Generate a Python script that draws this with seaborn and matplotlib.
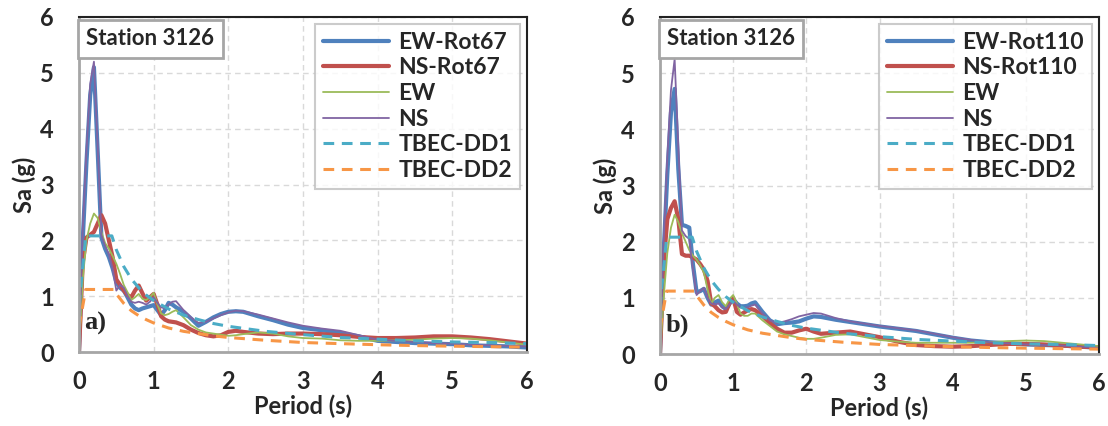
import matplotlib
matplotlib.use("Agg")
import matplotlib.pyplot as plt
import seaborn as sns

# ---------------- data ----------------
period = [0, 0.05, 0.1, 0.15, 0.2, 0.25, 0.3, 0.35, 0.4, 0.45, 0.5, 0.55, 0.6, 0.65,
          0.7, 0.75, 0.8, 0.85, 0.9, 0.95, 1.0, 1.05, 1.1, 1.15, 1.2, 1.25, 1.3, 1.4,
          1.5, 1.6, 1.7, 1.8, 1.9, 2.0, 2.1, 2.2, 2.4, 2.6, 2.8, 3.0, 3.25, 3.5, 3.75,
          4.0, 4.25, 4.5, 4.75, 5.0, 5.25, 5.5, 5.75, 6.0]

# panel a) rotation 67
ew_rot67 = [0, 2.0, 3.4, 4.6, 5.1, 3.6, 2.05, 1.85, 1.7, 1.5, 1.25, 1.15, 1.1, 0.98,
            0.85, 0.78, 0.75, 0.78, 0.8, 0.82, 0.84, 0.75, 0.66, 0.75, 0.88, 0.85, 0.8, 0.72,
            0.6, 0.47, 0.54, 0.62, 0.68, 0.72, 0.73, 0.72, 0.64, 0.57, 0.49, 0.43, 0.39, 0.34, 0.28,
            0.2, 0.18, 0.16, 0.15, 0.14, 0.12, 0.11, 0.1, 0.08]
ns_rot67 = [0, 1.6, 2.05, 2.1, 2.15, 2.3, 2.45, 2.3, 2.0, 1.7, 1.3, 1.2, 1.1, 1.02,
            0.98, 1.1, 1.19, 1.05, 0.92, 0.98, 1.04, 0.85, 0.64, 0.58, 0.55, 0.54, 0.53, 0.48,
            0.4, 0.34, 0.3, 0.28, 0.3, 0.36, 0.38, 0.36, 0.33, 0.32, 0.33, 0.33, 0.32, 0.3, 0.27,
            0.25, 0.25, 0.26, 0.28, 0.28, 0.26, 0.23, 0.19, 0.15]
ew_a = [0, 1.3, 2.0, 2.3, 2.48, 2.4, 2.15, 1.95, 1.85, 1.72, 1.58, 1.4, 1.2, 1.07,
        0.93, 0.98, 1.04, 0.95, 0.93, 0.98, 1.06, 0.85, 0.69, 0.66, 0.68, 0.72, 0.75, 0.62,
        0.48, 0.4, 0.35, 0.33, 0.31, 0.29, 0.3, 0.32, 0.35, 0.33, 0.28, 0.25, 0.24, 0.21, 0.2,
        0.2, 0.21, 0.22, 0.24, 0.25, 0.24, 0.21, 0.17, 0.13]
ns_a = [0, 2.2, 3.6, 4.8, 5.2, 3.7, 2.1, 1.9, 1.75, 1.5, 1.1, 1.2, 1.15, 1.0,
        0.9, 0.88, 0.9, 0.88, 0.85, 0.9, 0.98, 0.88, 0.8, 0.78, 0.85, 0.9, 0.91, 0.75,
        0.62, 0.52, 0.54, 0.6, 0.66, 0.71, 0.74, 0.73, 0.67, 0.6, 0.53, 0.47, 0.42, 0.38, 0.3,
        0.22, 0.2, 0.18, 0.16, 0.15, 0.13, 0.12, 0.11, 0.1]

# panel b) rotation 110
ew_rot110 = [0, 1.8, 3.2, 4.3, 4.72, 3.3, 2.3, 2.28, 2.25, 1.6, 1.1, 1.12, 1.16, 1.0,
             0.88, 0.92, 0.95, 0.85, 0.8, 0.9, 0.98, 0.9, 0.85, 0.85, 0.86, 0.9, 0.92, 0.75,
             0.6, 0.53, 0.55, 0.56, 0.58, 0.63, 0.67, 0.66, 0.61, 0.57, 0.53, 0.49, 0.45, 0.41, 0.35,
             0.29, 0.24, 0.21, 0.19, 0.17, 0.16, 0.15, 0.13, 0.11]
ns_rot110 = [0, 1.6, 2.4, 2.6, 2.72, 2.4, 1.78, 1.75, 1.75, 1.72, 1.68, 1.6, 1.5, 1.3,
             0.9, 0.85, 0.78, 0.74, 0.75, 0.9, 1.0, 0.75, 0.7, 0.74, 0.78, 0.8, 0.78, 0.68,
             0.55, 0.45, 0.38, 0.38, 0.42, 0.45, 0.4, 0.36, 0.38, 0.4, 0.35, 0.3, 0.22, 0.16, 0.14,
             0.13, 0.14, 0.16, 0.18, 0.18, 0.17, 0.15, 0.13, 0.12]
ew_b = [0, 1.0, 1.8, 2.25, 2.48, 2.35, 2.15, 2.0, 1.85, 1.75, 1.68, 1.58, 1.45, 1.15,
        0.9, 1.0, 1.05, 0.92, 0.85, 0.98, 1.05, 0.9, 0.72, 0.68, 0.68, 0.72, 0.72, 0.6,
        0.5, 0.4, 0.35, 0.32, 0.29, 0.27, 0.27, 0.29, 0.34, 0.35, 0.3, 0.25, 0.22, 0.2, 0.2,
        0.2, 0.2, 0.21, 0.23, 0.24, 0.23, 0.2, 0.17, 0.14]
ns_b = [0, 2.0, 3.5, 4.7, 5.25, 3.7, 2.2, 2.1, 2.05, 1.5, 1.05, 1.12, 1.18, 1.0,
        0.9, 0.88, 0.9, 0.83, 0.8, 0.88, 0.95, 0.88, 0.83, 0.82, 0.83, 0.86, 0.88, 0.72,
        0.6, 0.55, 0.58, 0.62, 0.67, 0.7, 0.73, 0.72, 0.64, 0.58, 0.54, 0.5, 0.46, 0.42, 0.36,
        0.3, 0.25, 0.21, 0.19, 0.17, 0.16, 0.15, 0.13, 0.11]

# design spectra (TBEC-2018)
dd1_period = [0, 0.09, 0.44, 0.5, 0.6, 0.7, 0.8, 0.9, 1.0, 1.2, 1.4, 1.6, 1.8, 2.0,
              2.5, 3.0, 3.5, 4.0, 4.5, 5.0, 5.5, 6.0]
dd1_sa = [0.83, 2.08, 2.08, 1.83, 1.53, 1.31, 1.15, 1.02, 0.92, 0.77, 0.66, 0.58, 0.51, 0.46,
          0.37, 0.31, 0.26, 0.23, 0.2, 0.18, 0.17, 0.15]
dd2_period = [0, 0.09, 0.47, 0.5, 0.6, 0.7, 0.8, 0.9, 1.0, 1.2, 1.4, 1.6, 1.8, 2.0,
              2.5, 3.0, 3.5, 4.0, 4.5, 5.0, 5.5, 6.0]
dd2_sa = [0.45, 1.12, 1.12, 1.04, 0.87, 0.74, 0.65, 0.58, 0.52, 0.43, 0.37, 0.33, 0.29, 0.26,
          0.21, 0.17, 0.15, 0.13, 0.115, 0.104, 0.095, 0.087]

x_ticks = [0, 1, 2, 3, 4, 5, 6]
y_ticks = [0, 1, 2, 3, 4, 5, 6]

# ---------------- style ----------------
sns.set_style("white")
plt.rcParams["font.family"] = ["Lato", "DejaVu Sans"]
plt.rcParams["font.weight"] = "bold"

C_BLUE, C_RED, C_GREEN = "#4F81BD", "#C0504D", "#9BBB59"
C_PURPLE, C_CYAN, C_ORANGE = "#8064A2", "#4BACC6", "#F79646"

fig = plt.figure(figsize=(11.08, 4.26), dpi=100)
ax_a = fig.add_axes([79 / 1108, 1 - 352 / 426, 448 / 1108, 335 / 426])
ax_b = fig.add_axes([660 / 1108, 1 - 354 / 426, 439 / 1108, 337 / 426])


def draw_panel(ax, rot_ew, rot_ns, ew, ns, rot_name, tag):
    sns.lineplot(x=period, y=rot_ew, ax=ax, color=C_BLUE, linewidth=3.0,
                 label=f"EW-{rot_name}", solid_capstyle="round")
    sns.lineplot(x=period, y=rot_ns, ax=ax, color=C_RED, linewidth=3.0,
                 label=f"NS-{rot_name}", solid_capstyle="round")
    sns.lineplot(x=period, y=ew, ax=ax, color=C_GREEN, linewidth=1.3, label="EW")
    sns.lineplot(x=period, y=ns, ax=ax, color=C_PURPLE, linewidth=1.3, label="NS")
    sns.lineplot(x=dd1_period, y=dd1_sa, ax=ax, color=C_CYAN, linewidth=2.2,
                 linestyle="--", label="TBEC-DD1")
    ax.lines[-1].set_dashes((3.5, 2.5))
    sns.lineplot(x=dd2_period, y=dd2_sa, ax=ax, color=C_ORANGE, linewidth=2.2,
                 linestyle="--", label="TBEC-DD2")
    ax.lines[-1].set_dashes((3.5, 2.5))

    ax.set_xlim(0, 6)
    ax.set_ylim(0, 6)
    ax.set_xticks(x_ticks)
    ax.set_yticks(y_ticks)
    ax.tick_params(axis="both", length=0, labelsize=17)
    ax.tick_params(axis="y", pad=18)
    ax.tick_params(axis="x", pad=13)
    for lab in ax.get_xticklabels() + ax.get_yticklabels():
        lab.set_fontweight("bold")
    ax.grid(True, color="#d9d9d9", linestyle=(0, (4, 3)), linewidth=1.0)
    ax.set_axisbelow(True)

    for side in ("left", "bottom"):
        ax.spines[side].set_color("#a6a6a6")
        ax.spines[side].set_linewidth(2.0)
    for side in ("top", "right"):
        ax.spines[side].set_color("#222222")
        ax.spines[side].set_linewidth(1.5)

    ax.set_xlabel("Period (s)", fontsize=17, fontweight="bold", labelpad=1)
    ax.set_ylabel("Sa (g)", fontsize=17, fontweight="bold", labelpad=3)

    leg = ax.legend(loc="upper right", fontsize=16.5, frameon=True, fancybox=False,
                    handlelength=2.9, handletextpad=0.4, labelspacing=0.2,
                    borderpad=0.35, borderaxespad=0.3)
    leg.get_frame().set_edgecolor("#bfbfbf")
    leg.get_frame().set_linewidth(1.5)
    for t in leg.get_texts():
        t.set_fontweight("bold")

    ax.text(0.016, 0.966, "Station 3126", transform=ax.transAxes, ha="left", va="top",
            fontsize=16, fontweight="bold",
            bbox=dict(boxstyle="square,pad=0.38", facecolor="white",
                      edgecolor="#a6a6a6", linewidth=2))
    ax.text(0.012, 0.05, tag, transform=ax.transAxes, ha="left", va="bottom",
            fontsize=19, fontweight="bold", family="Liberation Serif")


draw_panel(ax_a, ew_rot67, ns_rot67, ew_a, ns_a, "Rot67", "a)")
draw_panel(ax_b, ew_rot110, ns_rot110, ew_b, ns_b, "Rot110", "b)")

fig.savefig("out.png", dpi=100)
